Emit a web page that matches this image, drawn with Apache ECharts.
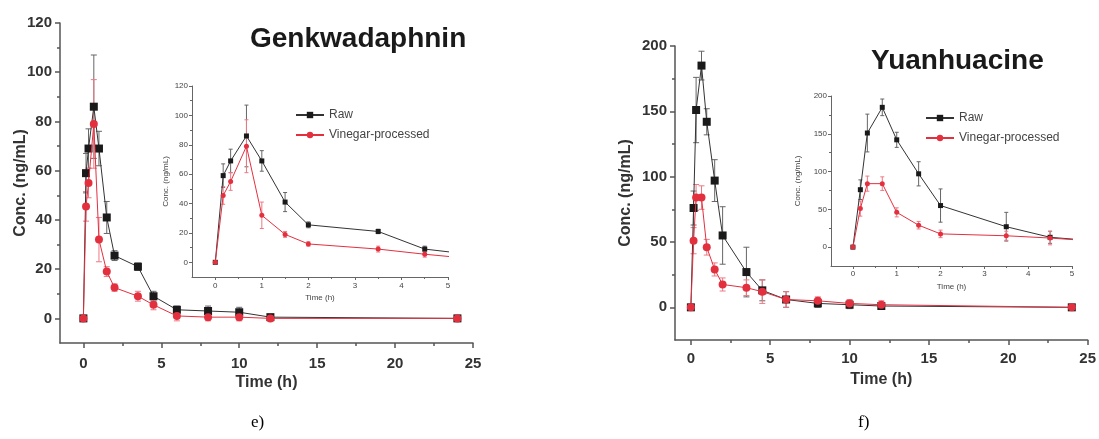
<!DOCTYPE html>
<html>
<head>
<meta charset="utf-8">
<script src="https://cdn.jsdelivr.net/npm/echarts@6/dist/echarts.min.js"></script>
<style>
  html, body { margin: 0; padding: 0; background: #fff; }
  #chart { width: 1099px; height: 439px; }
</style>
</head>
<body>
<div id="chart"></div>
<script>
// sampling times (h)
const times = [0, 0.17, 0.33, 0.67, 1, 1.5, 2, 3.5, 4.5, 6, 8, 10, 12, 24];

// Genkwadaphnin (ng/mL), mean and SD
const genRaw = [0, 59, 69, 86, 69, 41, 25.5, 21, 9, 3.5, 3, 2.5, 0.5, 0];
const genRawSd = [0, 8, 8, 21, 7, 6.5, 2, 1.5, 2, 1.5, 2, 2, 1, 0];
const genVin = [0, 45.5, 55, 79, 32, 19, 12.5, 9, 5.5, 1, 0.5, 0.5, 0, 0];
const genVinSd = [0, 6, 6, 18, 9, 2, 1.5, 2, 2, 2, 1.5, 1.5, 1, 0];

// Yuanhuacine (ng/mL), mean and SD
const yuanRaw = [0, 76, 151, 185, 142, 97, 55, 27, 13, 6, 3, 2, 1, 0];
const yuanRawSd = [0, 13, 25, 11, 10, 16, 22, 19, 8, 6, 3, 3, 2, 0];
const yuanVin = [0, 51, 84, 84, 46, 29, 17.5, 15, 12, 6, 5, 3, 2, 0];
const yuanVinSd = [0, 10, 10, 9, 6, 5, 5, 6, 9, 6, 3, 3, 3, 0];

// tick labels
const mainTimeTicks = [0, 5, 10, 15, 20, 25];
const mainTimeMinor = [2.5, 7.5, 12.5, 17.5, 22.5];
const insetTimeTicks = [0, 1, 2, 3, 4, 5];
const insetTimeMinor = [0.5, 1.5, 2.5, 3.5, 4.5];
const genConcTicks = [0, 20, 40, 60, 80, 100, 120];
const genConcMinor = [10, 30, 50, 70, 90, 110];
const yuanConcTicks = [0, 50, 100, 150, 200];
const yuanConcMinor = [25, 75, 125, 175];

const BLACK = '#1a1a1a';
const RED = '#e3303f';
const FONT = 'Liberation Sans';

const chart = echarts.init(document.getElementById('chart'));

const grids = [
  { left: 60, top: 23, width: 413, height: 320 },
  { left: 192, top: 86, width: 256, height: 191 },
  { left: 675, top: 46, width: 415, height: 294 },
  { left: 831, top: 96, width: 241, height: 170 }
];

function pairs(vals) {
  return times.map((t, i) => [t, vals[i]]);
}
function triples(vals, sds) {
  return times.map((t, i) => [t, vals[i], sds[i]]);
}

function errBars(color, cap) {
  return function (params, api) {
    const x = api.value(0);
    const y = api.value(1);
    const e = api.value(2);
    if (!e) return null;
    const hi = api.coord([x, y + e]);
    const lo = api.coord([x, y - e]);
    const st = { stroke: color, lineWidth: 1 };
    return {
      type: 'group',
      children: [
        { type: 'line', shape: { x1: hi[0], y1: hi[1], x2: lo[0], y2: lo[1] }, style: st },
        { type: 'line', shape: { x1: hi[0] - cap, y1: hi[1], x2: hi[0] + cap, y2: hi[1] }, style: st },
        { type: 'line', shape: { x1: lo[0] - cap, y1: lo[1], x2: lo[0] + cap, y2: lo[1] }, style: st }
      ]
    };
  };
}

const xAxes = [];
const yAxes = [];
const series = [];

function addPanel(g, big, xr, xTicks, xMinor, yr, yTicks, yMinor, xGap, yGap, xMargin, raw, rawSd, vin, vinSd) {
  const lab = big
    ? { fontFamily: FONT, fontWeight: 'bold', fontSize: 15, color: '#333' }
    : { fontFamily: FONT, fontSize: 8, color: '#444' };
  const nameStyle = big
    ? { fontFamily: FONT, fontWeight: 'bold', fontSize: 16, color: '#333' }
    : { fontFamily: FONT, fontSize: 8, color: '#444' };
  const axisColor = big ? '#555' : '#666';
  const lw = big ? 1.5 : 1;
  const xi = xAxes.length;
  const yi = yAxes.length;

  xAxes.push({
    type: 'value', gridIndex: g, min: xr[0], max: xr[1], position: 'bottom',
    name: 'Time (h)', nameLocation: 'middle', nameGap: xGap, nameTextStyle: nameStyle,
    nameMoveOverlap: false,
    axisLine: { onZero: false, lineStyle: { color: axisColor, width: lw } },
    axisTick: { customValues: xTicks, length: big ? 5 : 3, lineStyle: { color: axisColor, width: lw } },
    axisLabel: Object.assign({ customValues: xTicks, margin: xMargin }, lab),
    splitLine: { show: false }
  });
  xAxes.push({
    type: 'value', gridIndex: g, min: xr[0], max: xr[1], position: 'bottom',
    axisLine: { show: false, onZero: false },
    axisTick: { customValues: xMinor, length: big ? 3 : 2, lineStyle: { color: axisColor, width: lw } },
    axisLabel: { show: false },
    splitLine: { show: false }
  });
  yAxes.push({
    type: 'value', gridIndex: g, min: yr[0], max: yr[1], position: 'left',
    name: 'Conc. (ng/mL)', nameLocation: 'middle', nameGap: yGap, nameRotate: 90, nameTextStyle: nameStyle,
    nameMoveOverlap: false,
    axisLine: { show: true, onZero: false, lineStyle: { color: axisColor, width: lw } },
    axisTick: { show: true, customValues: yTicks, length: big ? 5 : 3, lineStyle: { color: axisColor, width: lw } },
    axisLabel: Object.assign({ customValues: yTicks, margin: big ? 8 : 4 }, lab),
    splitLine: { show: false }
  });
  yAxes.push({
    type: 'value', gridIndex: g, min: yr[0], max: yr[1], position: 'left',
    axisLine: { show: false, onZero: false },
    axisTick: { show: true, customValues: yMinor, length: big ? 3 : 2, lineStyle: { color: axisColor, width: lw } },
    axisLabel: { show: false },
    splitLine: { show: false }
  });

  const size = big ? 8 : 5;
  const cap = big ? 3 : 2;
  series.push({
    type: 'custom', xAxisIndex: xi, yAxisIndex: yi, clip: true, z: 1,
    renderItem: errBars('#666', cap), data: triples(raw, rawSd), silent: true
  });
  series.push({
    type: 'custom', xAxisIndex: xi, yAxisIndex: yi, clip: true, z: 1,
    renderItem: errBars('#ec7a86', cap), data: triples(vin, vinSd), silent: true
  });
  series.push({
    name: 'Raw', type: 'line', xAxisIndex: xi, yAxisIndex: yi, clip: true, z: 3,
    data: pairs(raw), symbol: 'rect', symbolSize: size, showAllSymbol: true,
    itemStyle: { color: BLACK }, lineStyle: { color: '#333', width: 1 },
    animation: false
  });
  series.push({
    name: 'Vinegar-processed', type: 'line', xAxisIndex: xi, yAxisIndex: yi, clip: true, z: 4,
    data: pairs(vin), symbol: 'circle', symbolSize: size, showAllSymbol: true,
    itemStyle: { color: RED }, lineStyle: { color: RED, width: 1 },
    animation: false
  });
}

addPanel(0, true, [-1.5, 25], mainTimeTicks, mainTimeMinor, [-10, 120], genConcTicks, genConcMinor,
  32, 31, 13, genRaw, genRawSd, genVin, genVinSd);
addPanel(1, false, [-0.5, 5], insetTimeTicks, insetTimeMinor, [-10, 120], genConcTicks, genConcMinor,
  17, 22, 5, genRaw, genRawSd, genVin, genVinSd);
addPanel(2, true, [-1, 25], mainTimeTicks, mainTimeMinor, [-25, 200], yuanConcTicks, yuanConcMinor,
  32, 41, 11, yuanRaw, yuanRawSd, yuanVin, yuanVinSd);
addPanel(3, false, [-0.5, 5], insetTimeTicks, insetTimeMinor, [-25, 200], yuanConcTicks, yuanConcMinor,
  17, 29, 4, yuanRaw, yuanRawSd, yuanVin, yuanVinSd);

const legendBase = {
  orient: 'vertical', itemWidth: 28, itemHeight: 8, itemGap: 8,
  data: ['Raw', 'Vinegar-processed'],
  textStyle: { fontFamily: FONT, fontSize: 12, color: '#444' }
};

const option = {
  animation: false,
  backgroundColor: '#fff',
  title: [
    { text: 'Genkwadaphnin', left: 245, top: 20,
      textStyle: { fontFamily: FONT, fontWeight: 'bold', fontSize: 28, color: '#1a1a1a' } },
    { text: 'Yuanhuacine', left: 866, top: 42,
      textStyle: { fontFamily: FONT, fontWeight: 'bold', fontSize: 28, color: '#1a1a1a' } }
  ],
  legend: [
    Object.assign({ left: 290, top: 104 }, legendBase),
    Object.assign({ left: 920, top: 107 }, legendBase)
  ],
  grid: grids,
  xAxis: xAxes,
  yAxis: yAxes,
  series: series,
  graphic: [
    { type: 'text', left: 251, top: 414,
      style: { text: 'e)', font: '17px "Liberation Serif"', fill: '#000' } },
    { type: 'text', left: 858, top: 414,
      style: { text: 'f)', font: '17px "Liberation Serif"', fill: '#000' } }
  ]
};

chart.setOption(option);
</script>
</body>
</html>
